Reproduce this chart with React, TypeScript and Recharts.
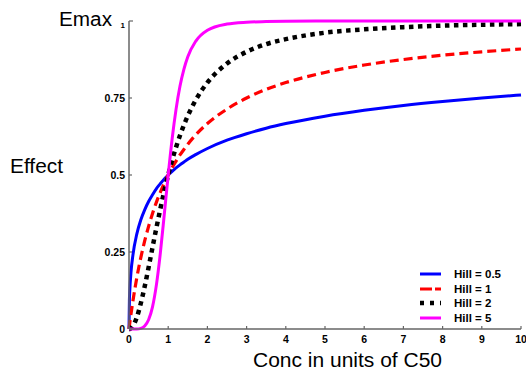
import React from "react";
import { LineChart, Line, XAxis, YAxis } from "recharts";

const conc = [0, 0.01, 0.02, 0.05, 0.1, 0.2, 0.3, 0.4, 0.5, 0.6, 0.7, 0.8, 0.9, 1, 1.1, 1.2, 1.3, 1.4, 1.5, 1.7, 2, 2.5, 3, 3.5, 4, 5, 6, 7, 8, 9, 10];
const hill05 = [0, 0.091, 0.124, 0.183, 0.24, 0.309, 0.354, 0.387, 0.414, 0.436, 0.456, 0.472, 0.487, 0.5, 0.512, 0.523, 0.533, 0.542, 0.551, 0.566, 0.586, 0.613, 0.634, 0.652, 0.667, 0.691, 0.71, 0.726, 0.739, 0.75, 0.76];
const hill1 = [0, 0.01, 0.02, 0.048, 0.091, 0.167, 0.231, 0.286, 0.333, 0.375, 0.412, 0.444, 0.474, 0.5, 0.524, 0.545, 0.565, 0.583, 0.6, 0.63, 0.667, 0.714, 0.75, 0.778, 0.8, 0.833, 0.857, 0.875, 0.889, 0.9, 0.909];
const hill2 = [0, 0, 0, 0.003, 0.01, 0.038, 0.083, 0.138, 0.2, 0.265, 0.329, 0.39, 0.448, 0.5, 0.548, 0.59, 0.628, 0.662, 0.692, 0.743, 0.8, 0.862, 0.9, 0.925, 0.941, 0.962, 0.973, 0.98, 0.985, 0.988, 0.99];
const hill5 = [0, 0, 0, 0, 0, 0, 0.002, 0.01, 0.03, 0.072, 0.144, 0.247, 0.372, 0.5, 0.617, 0.713, 0.788, 0.843, 0.884, 0.934, 0.97, 0.99, 0.996, 0.998, 0.999, 1, 1, 1, 1, 1, 1];

const xTicks = [0, 1, 2, 3, 4, 5, 6, 7, 8, 9, 10];
const yTicks = [0, 0.25, 0.5, 0.75, 1];

const series = [
  { key: "h05", name: "Hill = 0.5", color: "#0000ff", width: 3, dash: undefined },
  { key: "h1", name: "Hill = 1", color: "#ff0000", width: 3.2, dash: "9 5" },
  { key: "h2", name: "Hill = 2", color: "#000000", width: 4.5, dash: "4.5 4.5" },
  { key: "h5", name: "Hill = 5", color: "#ff00ff", width: 3, dash: undefined },
];

const data = conc.map((c, i) => ({ c, h05: hill05[i], h1: hill1[i], h2: hill2[i], h5: hill5[i] }));

const font = "Arial, 'Liberation Sans', sans-serif";
const axisColor = "#666";

// y ticks: small inward mark, bold label to the left
const YTick = (props: any) => {
  const { x, y, payload } = props;
  const top = payload.value === 1;
  return (
    <g>
      <line x1={x} y1={y} x2={x + (top ? 4 : 3)} y2={y} stroke={axisColor} strokeWidth={1.2} />
      <text x={x - 4} y={top ? y + 7 : y} dy={top ? 0 : 3.8} textAnchor={top ? "end" : "end"} fontFamily={font} fontWeight="bold" fontSize={top ? 8 : 10.5} fill="#000">
        {payload.value}
      </text>
    </g>
  );
};

// x ticks: inward (upward) mark, bold label below
const XTick = (props: any) => {
  const { x, y, payload } = props;
  return (
    <g>
      <line x1={x} y1={y} x2={x} y2={y - 3} stroke={axisColor} strokeWidth={1.2} />
      <text x={x} y={y + 14} textAnchor="middle" fontFamily={font} fontWeight="bold" fontSize={10.5} fill="#000">
        {payload.value}
      </text>
    </g>
  );
};

const legendRows = [274, 289, 303, 318];

export default function App() {
  return (
    <div style={{ position: "absolute", left: 0, top: 0, width: 526, height: 370, background: "#fff", fontFamily: font }}>
      <LineChart width={526} height={370} data={data} margin={{ top: 21, right: 5, bottom: 0, left: 0 }}>
        <XAxis
          type="number"
          dataKey="c"
          domain={[0, 10]}
          ticks={xTicks}
          interval={0}
          height={41}
          tickSize={0}
          tickMargin={0}
          tickLine={false}
          stroke={axisColor}
          strokeWidth={1.5}
          tick={<XTick />}
        />
        <YAxis
          type="number"
          domain={[0, 1]}
          ticks={yTicks}
          interval={0}
          width={129}
          tickSize={0}
          tickMargin={0}
          tickLine={false}
          stroke={axisColor}
          strokeWidth={1.5}
          tick={<YTick />}
        />
        {series.map((s) => (
          <Line
            key={s.key}
            type="monotone"
            dataKey={s.key}
            name={s.name}
            stroke={s.color}
            strokeWidth={s.width}
            strokeDasharray={s.dash}
            dot={false}
            isAnimationActive={false}
          />
        ))}
      </LineChart>
      <svg width={526} height={370} style={{ position: "absolute", left: 0, top: 0, pointerEvents: "none" }}>
        <text x={59} y={26} fontFamily={font} fontSize={20} textLength={53} lengthAdjust="spacingAndGlyphs">Emax</text>
        <text x={10} y={173} fontFamily={font} fontSize={20} textLength={53} lengthAdjust="spacingAndGlyphs">Effect</text>
        <text x={253} y={367} fontFamily={font} fontSize={20} textLength={189} lengthAdjust="spacingAndGlyphs">Conc in units of C50</text>
        {series.map((s, i) => (
          <g key={s.key}>
            <line
              x1={420}
              y1={legendRows[i]}
              x2={441}
              y2={legendRows[i]}
              stroke={s.color}
              strokeWidth={s.key === "h2" ? 4.5 : 3}
              strokeDasharray={s.key === "h1" ? "12 3" : s.key === "h2" ? "4 6" : undefined}
            />
            <text x={454} y={legendRows[i] + 4} fontFamily={font} fontWeight="bold" fontSize={11.5} fill="#000">
              {s.name}
            </text>
          </g>
        ))}
      </svg>
    </div>
  );
}
